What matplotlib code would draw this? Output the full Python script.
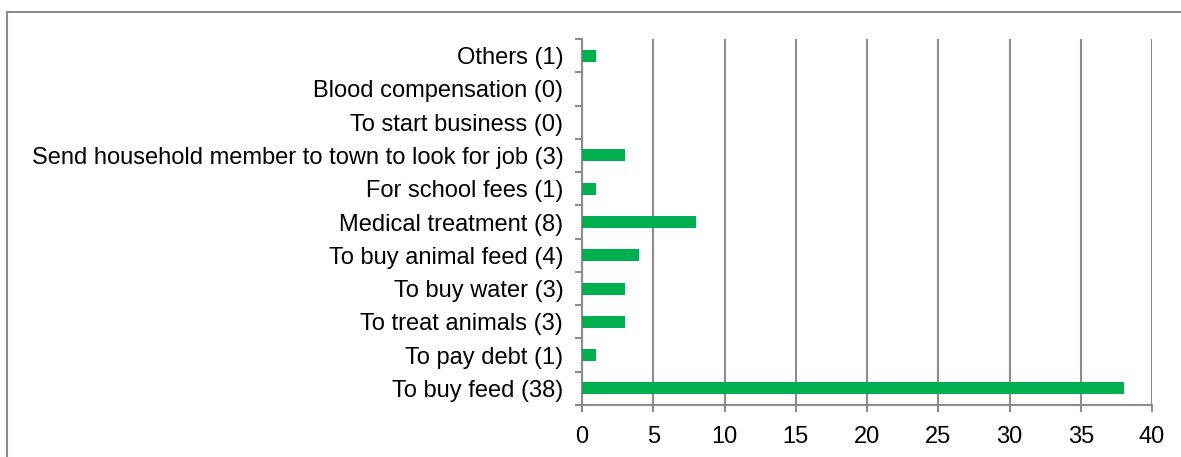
import matplotlib.pyplot as plt
from matplotlib.patches import Rectangle
import numpy as np

# categories listed bottom to top
categories = [
    'To buy feed (38)',
    'To pay debt (1)',
    'To treat animals (3)',
    'To buy water (3)',
    'To buy animal feed (4)',
    'Medical treatment (8)',
    'For school fees (1)',
    'Send household member to town to look for job (3)',
    'To start business (0)',
    'Blood compensation (0)',
    'Others (1)',
]
counts = [38, 1, 3, 3, 4, 8, 1, 3, 0, 0, 1]
x_ticks = [0, 5, 10, 15, 20, 25, 30, 35, 40]

plt.rcParams['font.family'] = ['Liberation Sans', 'DejaVu Sans']

fig = plt.figure(figsize=(11.81, 4.57), dpi=100)
W, H = 1181, 457

# outer chart-area border (bottom and right run off the picture)
fig.patches.append(Rectangle((7 / W, -0.05), 1.1, (1 - 11.5 / H) + 0.05,
                             transform=fig.transFigure, fill=False,
                             edgecolor='#8c8c8c', linewidth=1.5))

ax = fig.add_axes([582 / W, 1 - 405 / H, (1152 - 582) / W, (405 - 39) / H])

grey = '#8c8c8c'
y = np.arange(len(categories))
ax.barh(y, counts, height=0.36, color='#00B050', zorder=3)

ax.set_xlim(0, 40)
ax.set_ylim(-0.5, len(categories) - 0.5)
ax.set_xticks(x_ticks)
ax.xaxis.grid(True, color=grey, linewidth=1.5, zorder=0)

ax.set_yticks(y)
ax.set_yticklabels(categories)
ax.set_yticks(np.arange(-0.5, len(categories)), minor=True)
ax.tick_params(axis='y', which='major', length=0, pad=13.5, labelsize=17)
ax.tick_params(axis='y', which='minor', length=5, width=1.5, color=grey)
ax.tick_params(axis='x', length=5, width=1.5, color=grey, pad=10, labelsize=17)

for side in ['top', 'right']:
    ax.spines[side].set_visible(False)
for side in ['left', 'bottom']:
    ax.spines[side].set_color(grey)
    ax.spines[side].set_linewidth(1.5)

fig.savefig('out.png', dpi=100)
